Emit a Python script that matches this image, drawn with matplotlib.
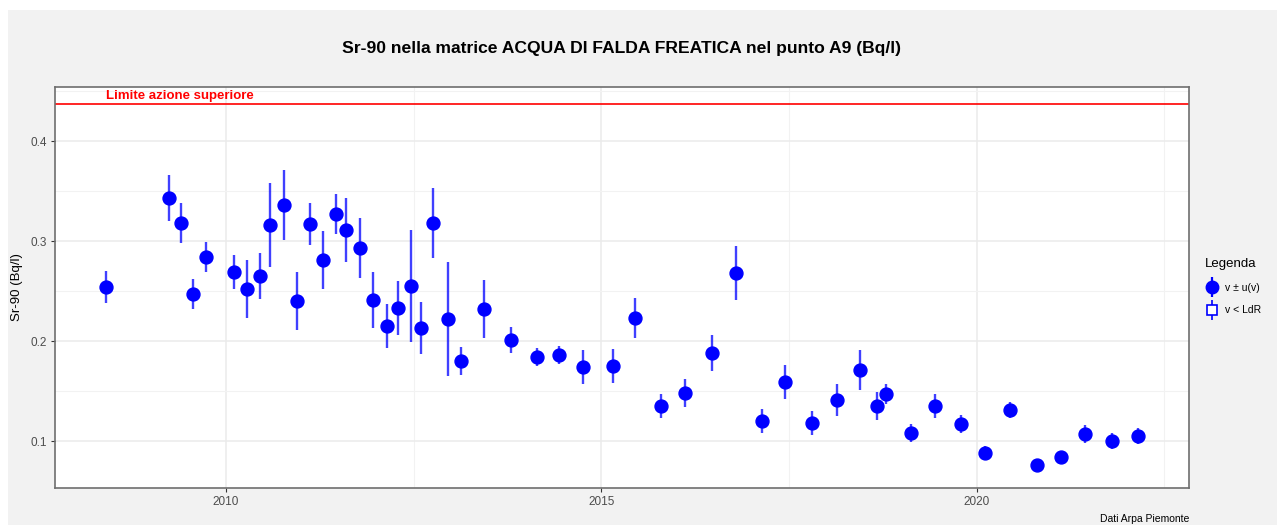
import matplotlib
matplotlib.use('Agg')
import matplotlib.pyplot as plt
from matplotlib.lines import Line2D
from matplotlib.patches import Rectangle
from matplotlib.legend_handler import HandlerTuple
from matplotlib.ticker import MultipleLocator

plt.rcParams['font.family'] = ['Liberation Sans', 'DejaVu Sans']

# date decimali delle misure
anni = [2008.40, 2009.24, 2009.40, 2009.56, 2009.73, 2010.10, 2010.28, 2010.45, 2010.58, 2010.77,
        2010.95, 2011.12, 2011.29, 2011.46, 2011.60, 2011.79, 2011.96, 2012.15, 2012.29, 2012.46,
        2012.60, 2012.76, 2012.96, 2013.13, 2013.44, 2013.79, 2014.14, 2014.44, 2014.76, 2015.15,
        2015.45, 2015.79, 2016.12, 2016.47, 2016.80, 2017.14, 2017.45, 2017.80, 2018.14, 2018.45,
        2018.67, 2018.79, 2019.13, 2019.44, 2019.79, 2020.11, 2020.44, 2020.80, 2021.12, 2021.45,
        2021.80, 2022.15]
valori = [0.254, 0.343, 0.318, 0.247, 0.284, 0.269, 0.252, 0.265, 0.316, 0.336,
          0.240, 0.317, 0.281, 0.327, 0.311, 0.293, 0.241, 0.215, 0.233, 0.255,
          0.213, 0.318, 0.222, 0.180, 0.232, 0.201, 0.184, 0.186, 0.174, 0.175,
          0.223, 0.135, 0.148, 0.188, 0.268, 0.120, 0.159, 0.118, 0.141, 0.171,
          0.135, 0.147, 0.108, 0.135, 0.117, 0.088, 0.131, 0.076, 0.084, 0.107,
          0.100, 0.105]
incertezze = [0.016, 0.023, 0.020, 0.015, 0.015, 0.017, 0.029, 0.023, 0.042, 0.035,
              0.029, 0.021, 0.029, 0.020, 0.032, 0.030, 0.028, 0.022, 0.027, 0.056,
              0.026, 0.035, 0.057, 0.014, 0.029, 0.013, 0.009, 0.009, 0.017, 0.017,
              0.020, 0.012, 0.014, 0.018, 0.027, 0.012, 0.017, 0.012, 0.016, 0.020,
              0.014, 0.010, 0.009, 0.012, 0.009, 0.007, 0.008, 0.004, 0.005, 0.009,
              0.008, 0.008]
limite = 0.437

fig = plt.figure(figsize=(12.77, 5.25), dpi=100)
fig.patch.set_facecolor('white')
fig.add_artist(Rectangle((8 / 1277, 0), 1, 1 - 10 / 525, transform=fig.transFigure,
                         facecolor='#f2f2f2', edgecolor='none', zorder=-10))
ax = fig.add_axes([55 / 1277, 1 - 488 / 525, (1189 - 55) / 1277, (488 - 87) / 525])
ax.set_facecolor('white')

ax.errorbar(anni, valori, yerr=incertezze, fmt='none', ecolor='blue', elinewidth=1.7,
            alpha=0.75, zorder=3)
ax.plot(anni, valori, 'o', color='blue', markersize=9.3, zorder=4)

ax.axhline(limite, color='red', lw=1.2, zorder=2)
ax.text(anni[0], limite + 0.002, 'Limite azione superiore', color='red', fontsize=9.5,
        fontweight='bold', ha='left', va='bottom')

ax.set_xlim(2007.72, 2022.83)
ax.set_ylim(0.053, 0.454)
ax.xaxis.set_major_locator(MultipleLocator(5))
ax.xaxis.set_minor_locator(MultipleLocator(2.5))
ax.yaxis.set_minor_locator(MultipleLocator(0.05))
ax.set_yticks([0.1, 0.2, 0.3, 0.4])
ax.set_yticklabels(['0.1', '0.2', '0.3', '0.4'])
ax.grid(which='major', color='#ebebeb', lw=1.1, zorder=0)
ax.grid(which='minor', color='#f2f2f2', lw=0.8, zorder=0)
ax.set_axisbelow(True)
ax.tick_params(which='major', length=3, color='#333333', labelsize=8.5, labelcolor='#4d4d4d', pad=3)
ax.tick_params(which='minor', length=0)
for s in ax.spines.values():
    s.set_color('#6e6e6e')
    s.set_linewidth(1.2)

ax.set_ylabel('Sr-90 (Bq/l)', fontsize=9.5, labelpad=5)
fig.text(622 / 1277, 1 - 48 / 525, 'Sr-90 nella matrice ACQUA DI FALDA FREATICA nel punto A9 (Bq/l)',
         ha='center', va='center', fontsize=12.6, fontweight='bold')
fig.text(1189 / 1277, 1 - 519 / 525, 'Dati Arpa Piemonte', ha='right', va='center', fontsize=7.5)

# legenda con chiavi disegnate a mano
bar = Line2D([], [], marker='|', markersize=15, mew=1.6, color='blue', ls='')
h1 = (bar, Line2D([], [], marker='o', markersize=9, color='blue', ls=''))
bar2 = Line2D([], [], marker='|', markersize=15, mew=1.2, color='blue', ls='')
h2 = (bar2, Line2D([], [], marker='s', markersize=7.5, color='blue', mfc='white', mew=1.2, ls=''))
leg = fig.legend([h1, h2], ['v ± u(v)', 'v < LdR'], title='Legenda',
                 handler_map={tuple: HandlerTuple(ndivide=1)},
                 loc='upper left', bbox_to_anchor=(1196 / 1277, 1 - 249 / 525),
                 frameon=False, fontsize=7.5, title_fontsize=9.5, handlelength=1.3,
                 handletextpad=0.6, labelspacing=1.2, alignment='left')

fig.savefig('out.png', dpi=100)
